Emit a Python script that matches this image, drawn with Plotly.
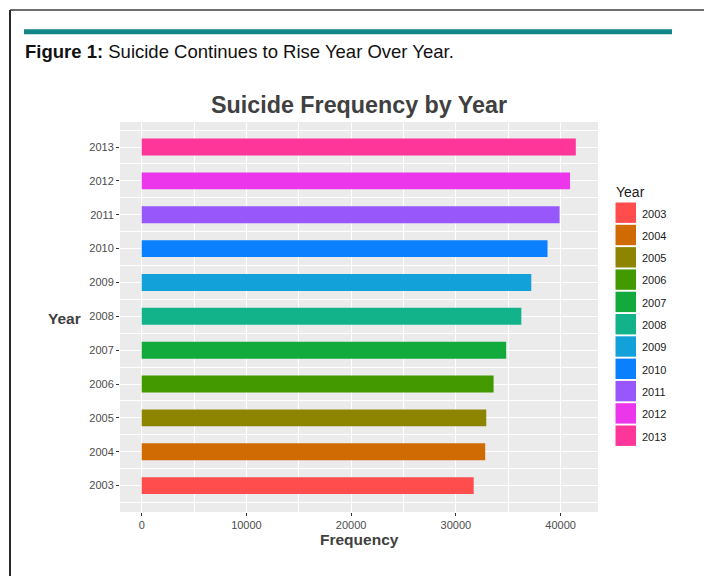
import plotly.graph_objects as go

# data
years = [2003, 2004, 2005, 2006, 2007, 2008, 2009, 2010, 2011, 2012, 2013]
frequency = [31700, 32800, 32900, 33600, 34800, 36250, 37200, 38750, 39900, 40900, 41450]
bar_colors = ["#FF4D4D", "#D06A02", "#8D8500", "#439A00", "#13AA3D", "#12B28B",
              "#12A1D8", "#0A80FF", "#9757FB", "#EC36EC", "#FF3699"]
x_ticks = [0, 10000, 20000, 30000, 40000]

# the page body adds an 8px margin, so the figure is drawn 8px smaller
OFF = 8
W, H = 712 - OFF, 576 - OFF
ML, MR, MT, MB = 120 - OFF, 114, 122 - OFF, 64
PW, PH = W - ML - MR, H - MT - MB


def px(x):
    # page pixel -> paper x
    return (x - OFF - ML) / PW


def py(y):
    # page pixel -> paper y
    return (H - MB - (y - OFF)) / PH


font = "Liberation Sans, Arial, sans-serif"

fig = go.Figure()
fig.add_trace(
    go.Bar(
        x=frequency,
        y=years,
        orientation="h",
        width=0.5,
        marker=dict(color=bar_colors, line=dict(width=0)),
        showlegend=False,
        hoverinfo="x+y",
    )
)

fig.update_layout(
    width=W,
    height=H,
    margin=dict(l=ML, r=MR, t=MT, b=MB, pad=0),
    paper_bgcolor="white",
    plot_bgcolor="#EBEBEB",
    font=dict(family=font, size=11, color="#4D4D4D"),
)

fig.update_xaxes(
    range=[-2072, 43570],
    tickvals=x_ticks,
    ticktext=[str(v) for v in x_ticks],
    ticks="outside",
    ticklen=3,
    tickwidth=1,
    tickcolor="#333333",
    showgrid=True,
    gridcolor="white",
    gridwidth=1.4,
    zeroline=False,
    showline=False,
    minor=dict(tickvals=[5000, 15000, 25000, 35000], showgrid=True,
               gridcolor="white", gridwidth=0.7),
    tickfont=dict(size=11, color="#4D4D4D"),
    fixedrange=True,
)

fig.update_yaxes(
    range=[2002.22, 2013.74],
    tickvals=years,
    ticktext=[str(y) for y in years],
    ticks="outside",
    ticklen=3,
    tickwidth=1,
    tickcolor="#333333",
    showgrid=True,
    gridcolor="white",
    gridwidth=1.4,
    zeroline=False,
    showline=False,
    minor=dict(tickvals=[y + 0.5 for y in [2002] + years], showgrid=True,
               gridcolor="white", gridwidth=0.7),
    tickfont=dict(size=11, color="#4D4D4D"),
    fixedrange=True,
)

shapes = [
    # page frame
    dict(type="line", xref="paper", yref="paper", x0=px(10), x1=px(712),
         y0=py(10), y1=py(10), line=dict(color="#6E6E6E", width=2)),
    dict(type="line", xref="paper", yref="paper", x0=px(10), x1=px(10),
         y0=py(10), y1=py(576), line=dict(color="#2A2A2A", width=2)),
    # teal rule above the caption
    dict(type="line", xref="paper", yref="paper", x0=px(24), x1=px(672),
         y0=py(31.8), y1=py(31.8), line=dict(color="#128686", width=5)),
]

annotations = [
    dict(text="<b>Figure 1:</b> Suicide Continues to Rise Year Over Year.",
         xref="paper", yref="paper", x=px(23), y=py(52), xanchor="left",
         yanchor="middle", showarrow=False,
         font=dict(family=font, size=18.5, color="#111111")),
    dict(text="<b>Suicide Frequency by Year</b>", xref="paper", yref="paper",
         x=px(359), y=py(105), xanchor="center", yanchor="middle",
         showarrow=False, font=dict(family=font, size=23.3, color="#404040")),
    dict(text="<b>Year</b>", xref="paper", yref="paper", x=px(82.5), y=py(318),
         xanchor="right", yanchor="middle", showarrow=False,
         font=dict(family=font, size=15.5, color="#404040")),
    dict(text="<b>Frequency</b>", xref="paper", yref="paper", x=px(359),
         y=py(539), xanchor="center", yanchor="middle", showarrow=False,
         font=dict(family=font, size=15.5, color="#404040")),
    dict(text="Year", xref="paper", yref="paper", x=px(614), y=py(191.5),
         xanchor="left", yanchor="middle", showarrow=False,
         font=dict(family=font, size=14, color="#1A1A1A")),
]

# legend drawn as keys next to the panel
for i, (yr, col) in enumerate(zip(years, bar_colors)):
    cy = 212.7 + 22.3 * i
    shapes.append(dict(type="rect", xref="paper", yref="paper",
                       x0=px(615.5), x1=px(636), y0=py(cy - 10.2), y1=py(cy + 10.2),
                       fillcolor=col, line=dict(width=0)))
    annotations.append(dict(text=str(yr), xref="paper", yref="paper",
                            x=px(640), y=py(cy + 0.8), xanchor="left",
                            yanchor="middle", showarrow=False,
                            font=dict(family=font, size=11, color="#1A1A1A")))

fig.update_layout(shapes=shapes, annotations=annotations)

fig.write_html("out.html")
